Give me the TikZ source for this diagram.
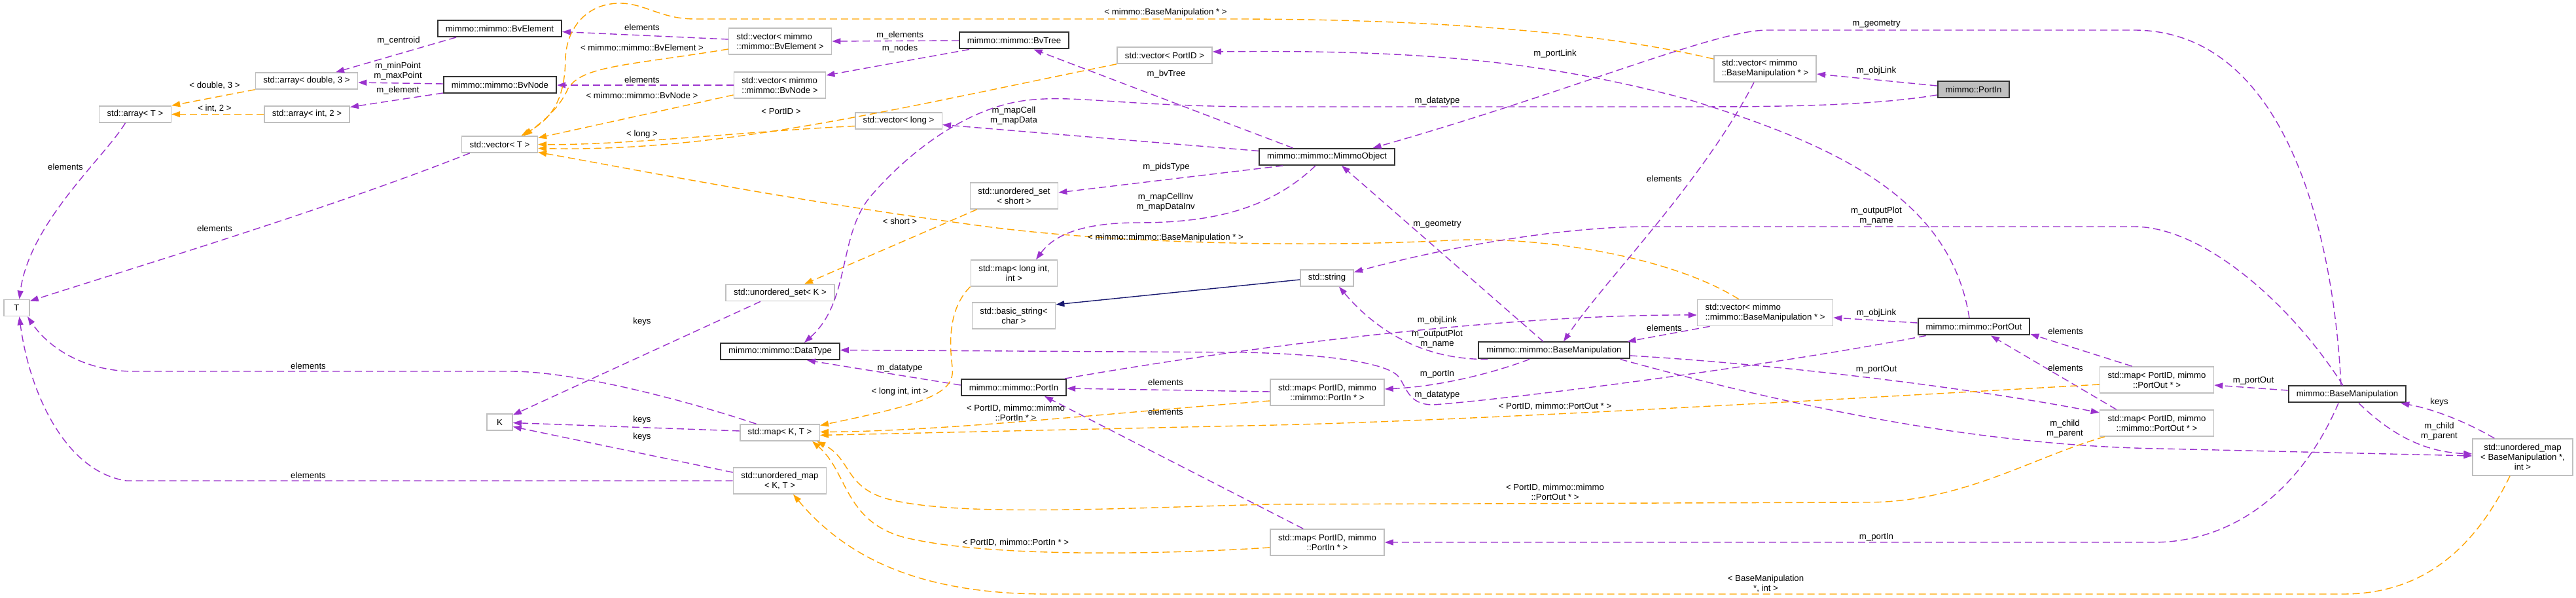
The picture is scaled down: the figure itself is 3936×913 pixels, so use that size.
\documentclass[tikz,border=0pt]{standalone}
\usepackage{fontspec}
\setmainfont{Liberation Sans}
\usepackage{tikz}
\usetikzlibrary{arrows.meta,calc}

\definecolor{memc}{HTML}{9A32CD}
\definecolor{tplc}{HTML}{FFA500}
\definecolor{inhc}{HTML}{191970}
\definecolor{extc}{HTML}{BFBFBF}

\begin{document}
\begin{tikzpicture}[x=0.5pt,y=-0.5pt,
  ext/.style={draw=extc, line width=0.8pt, fill=white, align=center, inner xsep=6pt, inner ysep=1pt, minimum height=12.5pt, font=\fontsize{6.6pt}{7.5pt}\selectfont},
  ext2/.style={ext, minimum height=20pt},
  ext3/.style={ext, minimum height=28pt},
  docu/.style={ext, draw=black!80, line width=1pt},
  root/.style={docu, fill=extc},
  lbl/.style={align=center, inner sep=0pt, text=black, font=\fontsize{6.6pt}{7.5pt}\selectfont},
  mem/.style={memc, line width=0.7pt, dash pattern=on 5.5pt off 3pt, -{Triangle[length=6.5pt,width=4.5pt]}},
  tpl/.style={mem, tplc},
  inh/.style={inhc, line width=0.7pt, -{Triangle[length=6.5pt,width=4.5pt]}}
]
\useasboundingbox (0,0) rectangle (3936,913);
\fill[white] (0,0) rectangle (3936,913);
% classes, column by column, left to right
\node[ext, minimum width=19.5pt] (tT) at (25.5,470) {T};
\node[ext] (arrT) at (206.5,174.5) {std::array< T >};
\node[ext] (arrD) at (468.5,123.5) {std::array< double, 3 >};
\node[ext] (arrI) at (469,174.5) {std::array< int, 2 >};
\node[docu] (bvEl) at (763.5,43.5) {mimmo::mimmo::BvElement};
\node[docu] (bvNd) at (764,130) {mimmo::mimmo::BvNode};
\node[ext] (vecT) at (763.5,220.5) {std::vector< T >};
\node[ext, minimum width=19.5pt] (kK) at (763.5,644.5) {K};
\node[ext2, align=left] (vecEl) at (1192,63) {std::vector< mimmo\\::mimmo::BvElement >};
\node[ext2, align=left] (vecNd) at (1191.5,130) {std::vector< mimmo\\::mimmo::BvNode >};
\node[ext] (usetK) at (1192,447) {std::unordered\_set< K >};
\node[docu] (dtype) at (1192,536.5) {mimmo::mimmo::DataType};
\node[ext] (mapKT) at (1191.5,660.5) {std::map< K, T >};
\node[ext2] (umapKT) at (1191.5,734) {std::unordered\_map\\< K, T >};
\node[ext] (vecLong) at (1373,184.5) {std::vector< long >};
\node[docu] (bvTree) at (1549.5,62) {mimmo::mimmo::BvTree};
\node[ext2] (usetShort) at (1549.5,299) {std::unordered\_set\\< short >};
\node[ext2] (mapLong) at (1549.5,417) {std::map< long int,\\int >};
\node[ext2] (bstr) at (1549,482) {std::basic\_string<\\char >};
\node[docu] (mPortIn) at (1549,591.5) {mimmo::mimmo::PortIn};
\node[ext] (vecPid) at (1779.5,84.5) {std::vector< PortID >};
\node[docu] (mObj) at (2027.5,239.5) {mimmo::mimmo::MimmoObject};
\node[ext] (str) at (2027.5,424.5) {std::string};
\node[ext2] (mapPin) at (2028,599) {std::map< PortID, mimmo\\::mimmo::PortIn * >};
\node[ext2] (mapPin2) at (2028,828) {std::map< PortID, mimmo\\::PortIn * >};
\node[docu] (mBase) at (2374.5,535) {mimmo::mimmo::BaseManipulation};
\node[ext2, align=left] (vecBm) at (2697,105) {std::vector< mimmo\\::BaseManipulation * >};
\node[ext2, align=left] (vecBm2) at (2697,477.5) {std::vector< mimmo\\::mimmo::BaseManipulation * >};
\node[root] (portIn) at (3015.5,137) {mimmo::PortIn};
\node[docu] (mPortOut) at (3016,499) {mimmo::mimmo::PortOut};
\node[ext2] (mapPout) at (3295.5,580) {std::map< PortID, mimmo\\::PortOut * >};
\node[ext2] (mapPout2) at (3295.5,646) {std::map< PortID, mimmo\\::mimmo::PortOut * >};
\node[docu] (base) at (3586.5,602) {mimmo::BaseManipulation};
\node[ext3] (umapBm) at (3854.5,698) {std::unordered\_map\\< BaseManipulation *,\\int >};

% bounding volume members
\draw[mem] ($(bvEl.south)+(-66.5,0)$) -- ($(arrD.north)+(44.5,0)$) node[lbl] (l1) at (609,62) {m\_centroid};
\draw[mem] ($(bvNd.west)+(0,-2)$) -- ($(arrD.east)+(0,2.5)$) node[lbl] (l2) at (608,109) {m\_minPoint\\m\_maxPoint};
\draw[mem] ($(bvNd.west)+(0,12)$) -- ($(arrI.east)+(0,-11)$) node[lbl] (l3) at (608,138) {m\_element};
\draw[tpl] (arrD.south west) -- (arrT.north east) node[lbl] (l4) at (328,131) {< double, 3 >};
\draw[tpl] (arrI.west) -- (arrT.east) node[lbl] (l5) at (328,166) {< int, 2 >};
\draw[mem] ($(arrT.south)+(-15,0)$) .. controls (160,240) and (45,340) .. ($(tT.north)+(4,0)$) node[lbl] (l6) at (100,255) {elements};
\draw[mem] ($(vecT.south west)+(13,0)$) .. controls (500,320) and (200,410) .. ($(tT.north east)+(0,3)$) node[lbl] (l7) at (328,349) {elements};
\draw[mem] ($(mapKT.north)+(-36,0)$) .. controls (1050,612) and (880,567) .. (780,567) -- (200,567) .. controls (120,565) and (70,525) .. ($(tT.south)+(16.5,0)$) node[lbl] (l8) at (471,559) {elements};
\draw[mem] (umapKT.west) -- (193,734) .. controls (100,720) and (45,600) .. ($(tT.south)+(4,0)$) node[lbl] (l9) at (471,726) {elements};
\draw[mem] ($(usetK.south)+(-30,0)$) -- ($(kK.east)+(0,-11)$) node[lbl] (l10) at (981,491) {keys};
\draw[mem] ($(mapKT.west)+(0,-2.5)$) -- ($(kK.east)+(0,1)$) node[lbl] (l11) at (981,641) {keys};
\draw[mem] ($(umapKT.north west)+(0,8)$) -- ($(kK.east)+(0,7)$) node[lbl] (l12) at (981,667) {keys};
\draw[mem] ($(vecEl.west)+(0,-3)$) -- ($(bvEl.east)+(0,5)$) node[lbl] (l13) at (981,42) {elements};
\draw[mem] (vecNd.west) -- (bvNd.east) node[lbl] (l14) at (981,122) {elements};

% template instances into std::vector< T >
\draw[tpl] ($(vecEl.west)+(0,12)$) .. controls (960,100) and (890,100) .. (868,135) .. controls (855,165) and (830,185) .. ($(vecT.north)+(37,0)$) node[lbl] (l15) at (981,73) {< mimmo::mimmo::BvElement >};
\draw[tpl] ($(vecNd.west)+(0,15)$) -- ($(vecT.east)+(0,-10)$) node[lbl] (l16) at (981,146) {< mimmo::mimmo::BvNode >};
\draw[tpl] (vecPid.south west) .. controls (1350,170) and (1100,232) .. ($(vecT.east)+(0,6)$) node[lbl] (l17) at (1193.5,170) {< PortID >};
\draw[tpl] ($(vecLong.west)+(0,8)$) .. controls (1150,200) and (950,222) .. (vecT.east) node[lbl] (l18) at (981,205) {< long >};
\draw[tpl] ($(vecBm.west)+(0,-15)$) .. controls (2450,50) and (2200,30) .. (1900,29) -- (1061,29) .. controls (1010,29) and (985,5) .. (947,5) .. controls (895,5) and (865,45) .. (864,90) .. controls (863,150) and (845,180) .. ($(vecT.north)+(33,0)$) node[lbl] (l19) at (1781,19) {< mimmo::BaseManipulation * >};
\draw[tpl] ($(vecBm2.north west)+(64,0)$) .. controls (2550,390) and (2350,360) .. (2215,367) .. controls (2000,378) and (1700,372) .. (1500,345) .. controls (1200,305) and (950,255) .. ($(vecT.east)+(0,12)$) node[lbl] (l20) at (1781,363) {< mimmo::mimmo::BaseManipulation * >};
\draw[tpl] ($(usetShort.south west)+(11,0)$) -- ($(usetK.north)+(37,0)$) node[lbl] (l21) at (1375,338) {< short >};

% MimmoObject members
\draw[mem] ($(mObj.west)+(0,-9)$) -- ($(vecLong.east)+(0,6)$) node[lbl] (l22) at (1549,177) {m\_mapCell\\m\_mapData};
\draw[mem] ($(mObj.north)+(-52,0)$) -- ($(bvTree.south)+(30,0)$) node[lbl] (l23) at (1782,113) {m\_bvTree};
\draw[mem] ($(mObj.south west)+(37,0)$) -- ($(usetShort.east)+(0,-5)$) node[lbl] (l24) at (1782,255) {m\_pidsType};
\draw[mem] ($(mObj.south)+(-17.5,0)$) .. controls (1940,320) and (1850,340) .. (1740,340) .. controls (1650,340) and (1610,360) .. ($(mapLong.north)+(33.5,0)$) node[lbl] (l25) at (1781,309) {m\_mapCellInv\\m\_mapDataInv};
\draw[mem] (bvTree.west) -- (vecEl.east) node[lbl] (l57) at (1375,54) {m\_elements};
\draw[mem] ($(bvTree.south west)+(16,0)$) -- ($(vecNd.east)+(0,-15)$) node[lbl] (l58) at (1375,74) {m\_nodes};

% BaseManipulation members
\draw[mem] ($(base.north)+(-9.5,0)$) .. controls (3565,350) and (3490,46) .. (3260,46) -- (2700,46) .. controls (2620,46) and (2400,140) .. ($(mObj.north)+(70,0)$) node[lbl] (l26) at (2867,37) {m\_geometry};
\draw[mem] ($(mBase.north)+(-16.5,0)$) -- ($(mObj.south)+(22.5,0)$) node[lbl] (l27) at (2196,343) {m\_geometry};
\draw[mem] ($(mBase.south west)+(15,0)$) .. controls (2160,550) and (2090,490) .. ($(str.south)+(18.5,0)$) node[lbl] (l28) at (2196,518) {m\_outputPlot\\m\_name};
\draw[mem] ($(base.north)+(-6.5,0)$) .. controls (3505,470) and (3370,346) .. (3260,346) -- (2520,346) .. controls (2380,346) and (2200,380) .. ($(str.east)+(0,-9)$) node[lbl] (l29) at (2867,330) {m\_outputPlot\\m\_name};
\draw[inh] ($(str.west)+(0,2.5)$) -- ($(bstr.east)+(0,-17)$);
\draw[mem] ($(mBase.south)+(-37.5,0)$) .. controls (2280,570) and (2200,590) .. ($(mapPin.east)+(0,-5)$) node[lbl] (l43) at (2196,571) {m\_portIn};
\draw[mem] ($(base.south)+(-13.5,0)$) .. controls (3520,740) and (3420,828) .. (3290,828) -- (mapPin2.east) node[lbl] (l44) at (2867,820) {m\_portIn};
\draw[mem] ($(mBase.east)+(0,8)$) .. controls (2700,555) and (3000,590) .. ($(mapPout2.west)+(0,-16)$) node[lbl] (l45) at (2867,564) {m\_portOut};
\draw[mem] ($(base.west)+(0,-6)$) -- ($(mapPout.east)+(0,8)$) node[lbl] (l46) at (3443,581) {m\_portOut};
\draw[mem] ($(mBase.south east)+(-15,0)$) .. controls (2700,610) and (3000,680) .. (3300,685) -- ($(umapBm.west)+(0,-2)$) node[lbl] (l49) at (3155,655) {m\_child\\m\_parent};
\draw[mem] ($(base.south)+(17.5,0)$) .. controls (3650,660) and (3700,690) .. ($(umapBm.west)+(0,-5)$) node[lbl] (l50) at (3727,659) {m\_child\\m\_parent};
\draw[mem] ($(umapBm.north west)+(34,0)$) .. controls (3770,645) and (3720,625) .. ($(base.south east)+(-9,0)$) node[lbl] (l51) at (3727,614) {keys};
\draw[mem] ($(vecBm.south)+(-17,0)$) .. controls (2600,280) and (2450,430) .. ($(mBase.north)+(14.5,0)$) node[lbl] (l52) at (2543,273) {elements};
\draw[mem] ($(vecBm2.south west)+(20,0)$) -- ($(mBase.north east)+(-4,0)$) node[lbl] (l53) at (2543,501) {elements};

% ports
\draw[mem] ($(portIn.west)+(0,-6)$) -- ($(vecBm.east)+(0,8)$) node[lbl] (l31) at (2867,108) {m\_objLink};
\draw[mem] ($(portIn.west)+(0,8)$) .. controls (2850,163) and (2700,163) .. (2560,163) -- (1900,163) .. controls (1700,160) and (1640,145) .. (1570,153) .. controls (1480,163) and (1390,230) .. (1330,300) .. controls (1280,360) and (1300,460) .. ($(dtype.north)+(37,0)$) node[lbl] (l32) at (2196,154) {m\_datatype};
\draw[mem] ($(mPortIn.west)+(0,-3.5)$) -- ($(dtype.south)+(41,0)$) node[lbl] (l33) at (1375,562) {m\_datatype};
\draw[mem] ($(mPortOut.south west)+(13,0)$) .. controls (2700,560) and (2300,610) .. (2190,618) .. controls (2150,618) and (2150,590) .. (2135,573) .. controls (2110,550) and (2000,540) .. (1900,538) -- ($(dtype.east)+(0,-2)$) node[lbl] (l34) at (2196,603) {m\_datatype};
\draw[mem] ($(mapPin.west)+(0,-1)$) -- ($(mPortIn.east)+(0,1.5)$) node[lbl] (l35) at (1781,584) {elements};
\draw[mem] ($(mapPin2.north west)+(51,0)$) -- ($(mPortIn.south)+(47,0)$) node[lbl] (l36) at (1781,629) {elements};
\draw[mem] ($(mapPout.north west)+(50,0)$) -- ($(mPortOut.east)+(0,11)$) node[lbl] (l47) at (3156,506) {elements};
\draw[mem] ($(mapPout2.north west)+(26,0)$) -- ($(mPortOut.south)+(26,0)$) node[lbl] (l48) at (3156,562) {elements};
\draw[mem] ($(mPortIn.north east)+(-3,0)$) .. controls (1900,530) and (2300,480) .. ($(vecBm2.west)+(0,3.5)$) node[lbl] (l54) at (2196,489) {m\_objLink};
\draw[mem] ($(mPortOut.west)+(0,-6)$) -- ($(vecBm2.east)+(0,7.5)$) node[lbl] (l55) at (2867,478) {m\_objLink};
\draw[mem] ($(mPortOut.north)+(-7,0)$) .. controls (2980,300) and (2800,220) .. (2580,152) .. controls (2350,90) and (2150,76) .. ($(vecPid.east)+(0,-5.5)$) node[lbl] (l56) at (2376,82) {m\_portLink};

% template instances into the maps
\draw[tpl] (mapLong.south west) .. controls (1450,470) and (1450,520) .. (1455,560) .. controls (1460,600) and (1420,615) .. ($(mapKT.east)+(0,-11)$) node[lbl] (l37) at (1375,598) {< long int, int >};
\draw[tpl] ($(mapPin.west)+(0,13)$) .. controls (1700,630) and (1450,658) .. ($(mapKT.east)+(0,-1)$) node[lbl] (l38) at (1552,630) {< PortID, mimmo::mimmo\\::PortIn * >};
\draw[tpl] ($(mapPout.west)+(0,7)$) .. controls (2800,610) and (2200,645) .. (1900,650) -- ($(mapKT.east)+(0,4)$) node[lbl] (l39) at (2376,621) {< PortID, mimmo::PortOut * >};
\draw[tpl] ($(mapPout2.south west)+(8,0)$) .. controls (3100,700) and (3000,767) .. (2850,767) -- (1940,770) .. controls (1700,776) and (1450,790) .. (1350,760) .. controls (1290,740) and (1300,700) .. ($(mapKT.south east)+(-5,0)$) node[lbl] (l40) at (2376,751) {< PortID, mimmo::mimmo\\::PortOut * >};
\draw[tpl] ($(mapPin2.west)+(0,8)$) .. controls (1750,848) and (1500,850) .. (1380,820) .. controls (1290,795) and (1295,720) .. ($(mapKT.south east)+(-12,0)$) node[lbl] (l41) at (1552,829) {< PortID, mimmo::PortIn * >};
\draw[tpl] ($(umapBm.south)+(-19.5,0)$) .. controls (3780,840) and (3700,907) .. (3580,907) -- (1600,907) .. controls (1420,907) and (1300,860) .. ($(umapKT.south)+(20.5,0)$) node[lbl] (l42) at (2698,891) {< BaseManipulation\\*, int >};
\end{tikzpicture}
\end{document}
